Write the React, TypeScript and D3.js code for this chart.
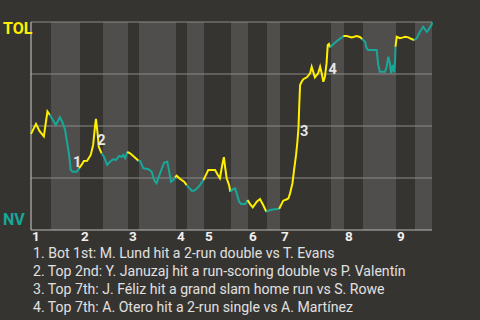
import React from "react";
import * as d3 from "d3";

// Game progress (0-100) and TOL win probability (%)
const progress = [
  0, 1.25, 2.1, 3.2, 4.1, 4.7,
  5.2, 6.2, 7.2, 7.9, 8.5, 8.9, 9.2, 9.6, 9.9, 10.4, 11.4, 12.0,
  12.6, 13.2, 14.0, 14.9, 15.5, 16.0, 16.2, 16.6, 16.9, 17.6,
  18.2, 19.0, 19.7, 20.5, 21.2, 22.0, 22.6, 23.0, 23.5, 24.0,
  24.7, 25.7, 26.8,
  27.2, 28.0, 29.3, 30.1, 30.7, 31.3, 32.2, 33.2, 34.0, 34.4, 34.9, 35.5, 35.9,
  36.3, 37.2, 38.2, 38.8,
  40.1, 40.7, 41.7, 43.0,
  43.6, 44.2, 45.9, 46.6, 47.1, 47.7, 48.1, 48.4, 48.8, 49.4, 49.7,
  50.4, 50.9, 51.3, 51.9, 52.4, 53.4, 53.8, 54.0,
  54.6, 55.3, 56.3, 57.1, 57.9, 58.7,
  59.6, 60.8, 61.9,
  62.9, 63.8, 64.2, 64.6, 65.2, 65.6, 66.1, 66.4, 66.7, 66.9, 67.1, 67.5, 67.9, 68.8,
  69.6, 70.0, 70.8, 71.6, 72.1, 72.5, 72.9, 73.3, 73.7, 74.0, 74.3, 74.6,
  75.4, 76.6, 77.5, 77.9,
  78.7, 80.0, 81.2, 82.0, 82.6,
  83.3, 83.7, 84.1, 86.2, 86.6, 87.0, 88.3, 88.7, 89.1, 89.5, 89.8, 90.2, 90.6, 90.8, 90.9,
  91.2, 92.0, 92.8, 93.3, 94.1, 94.9, 95.6,
  96.2, 97.0, 97.8, 98.7, 99.1, 99.9, 100,
];
const winProb = [
  46.2, 51.0, 47.6, 45.0, 57.0, 55.3,
  53.7, 50.5, 54.2, 51.6, 48.1, 43.3, 40.0, 34.5, 28.8, 28.0, 28.0, 29.7,
  31.3, 33.2, 33.3, 36.1, 40.9, 50.5, 53.4, 46.6, 40.0, 36.9,
  35.2, 31.3, 32.8, 34.0, 33.7, 35.6, 35.2, 36.1, 34.5, 37.6,
  36.9, 35.2, 33.3,
  33.2, 29.7, 29.2, 28.0, 24.0, 22.5, 27.3, 32.4, 32.8, 28.8, 23.2, 24.0, 25.3,
  26.1, 24.5, 23.2, 21.6,
  18.9, 18.9, 20.5, 24.0,
  26.4, 28.8, 28.8, 26.4, 24.9, 31.3, 35.0, 30.4, 24.9, 21.6, 18.4,
  19.6, 20.0, 17.6, 13.6, 12.5, 12.5, 13.6, 14.4,
  12.5, 10.9, 13.6, 14.9, 12.0, 8.8,
  9.6, 10.0, 10.2,
  14.1, 14.8, 15.2, 17.6, 22.5, 28.8, 36.1, 41.7, 49.0, 60.1, 69.7, 71.3, 72.5, 73.4,
  75.3, 78.5, 73.4, 75.3, 78.5, 75.3, 71.3, 73.7, 80.1, 88.9, 89.4, 87.8,
  89.4, 91.3, 92.6, 93.3,
  93.3, 92.6, 93.3, 92.8, 91.8,
  90.5, 87.4, 86.5, 86.5, 79.3, 76.1, 76.1, 78.5, 83.3, 80.1, 75.3, 79.3, 75.8, 81.7, 88.1,
  92.9, 92.2, 92.6, 92.9, 92.6, 91.8, 91.3,
  92.2, 95.3, 97.7, 95.3, 96.2, 98.6, 100,
];

// Half-inning start positions (progress units)
const halfInningStarts = [
  0, 4.99, 12.22, 17.96, 24.19, 26.93, 36.16, 38.9, 43.14, 49.88,
  54.11, 58.85, 62.09, 74.81, 78.05, 82.79, 91.02, 95.76,
];
const inningLabels = ["1", "2", "3", "4", "5", "6", "7", "8", "9"];

// Key events: label, anchor progress, anchor probability, description
const eventLabels = ["1", "2", "3", "4"];
const eventProgress = [10.5, 16.5, 67.1, 74.2];
const eventProb = [30.3, 40.9, 45.2, 75.0];
const eventTexts = [
  "1. Bot 1st: M. Lund hit a 2-run double vs T. Evans",
  "2. Top 2nd: Y. Januzaj hit a run-scoring double vs P. Valentín",
  "3. Top 7th: J. Féliz hit a grand slam home run vs S. Rowe",
  "4. Top 7th: A. Otero hit a 2-run single vs A. Martínez",
];

const gridValues = [25, 50, 75];
const awayTeam = "TOL";
const homeTeam = "NV";

const W = 480;
const H = 320;
const BG = "#363431";
const BAND = "#4f4e4c";
const YELLOW = "#fff000";
const TEAL = "#17a89a";
const FONT = "Roboto, 'Noto Sans', sans-serif";

export default function App() {
  const x = d3.scaleLinear().domain([0, 100]).range([31, 432]);
  const y = d3.scaleLinear().domain([0, 100]).range([230, 22]);

  const bands = halfInningStarts.map((s, i) => {
    const e = i + 1 < halfInningStarts.length ? halfInningStarts[i + 1] : 100;
    return { s, e, i };
  });

  const halfOf = (p: number) => {
    let h = 0;
    for (let i = 0; i < halfInningStarts.length; i++) if (p >= halfInningStarts[i]) h = i;
    return h;
  };

  const pts = progress.map((p, i) => ({ p, v: winProb[i], h: halfOf(p) }));
  const segs: { h: number; pts: typeof pts }[] = [];
  pts.forEach((pt, i) => {
    const last = segs[segs.length - 1];
    if (!last || last.h !== pt.h) {
      const start = i > 0 ? [pts[i - 1]] : [];
      segs.push({ h: pt.h, pts: [...start, pt] });
    } else {
      last.pts.push(pt);
    }
  });

  const line = d3
    .line<{ p: number; v: number }>()
    .x((d) => x(d.p))
    .y((d) => y(d.v));

  return (
    <svg
      width={W}
      height={H}
      style={{ position: "fixed", left: 0, top: 0, background: BG, fontFamily: FONT }}
    >
      <rect x={0} y={0} width={W} height={H} fill={BG} />
      {bands
        .filter((b) => b.i % 2 === 1)
        .map((b) => (
          <rect
            key={b.i}
            x={x(b.s)}
            y={y(100)}
            width={x(b.e) - x(b.s)}
            height={y(0) - y(100)}
            fill={BAND}
          />
        ))}
      {gridValues.map((g) => (
        <line key={g} x1={x(0)} x2={x(100)} y1={y(g)} y2={y(g)} stroke="#8a8987" strokeWidth={1.2} />
      ))}
      <line x1={x(0)} x2={x(100)} y1={y(100)} y2={y(100)} stroke="#8a8987" strokeWidth={1.2} />
      <line x1={x(0)} x2={x(0)} y1={y(100)} y2={y(0)} stroke="#b8b7b5" strokeWidth={1.2} />
      <line x1={x(0)} x2={x(100)} y1={y(0)} y2={y(0)} stroke="#b8b7b5" strokeWidth={1.2} />
      {segs.map((s, i) => (
        <path
          key={i}
          d={line(s.pts) || ""}
          fill="none"
          stroke={s.h % 2 === 0 ? YELLOW : TEAL}
          strokeWidth={2}
        />
      ))}
      {eventLabels.map((l, i) => (
        <text
          key={l}
          x={x(eventProgress[i])}
          y={y(eventProb[i])}
          fill="#e6e6e6"
          fontSize={14.5}
          fontWeight="bold"
        >
          {l}
        </text>
      ))}
      {inningLabels.map((l, i) => (
        <text
          key={l}
          x={x(halfInningStarts[i * 2]) + 1}
          y={241}
          fill="#f0f0f0"
          fontSize={13.5}
          fontWeight="bold"
        >
          {l}
        </text>
      ))}
      <text x={3} y={34} fill={YELLOW} fontSize={16} fontWeight="bold">
        {awayTeam}
      </text>
      <text x={3} y={225} fill={TEAL} fontSize={16} fontWeight="bold">
        {homeTeam}
      </text>
      {eventTexts.map((t, i) => (
        <text key={i} x={33} y={258 + i * 18} fill="#e0e0e0" fontSize={14.1}>
          {t}
        </text>
      ))}
    </svg>
  );
}
